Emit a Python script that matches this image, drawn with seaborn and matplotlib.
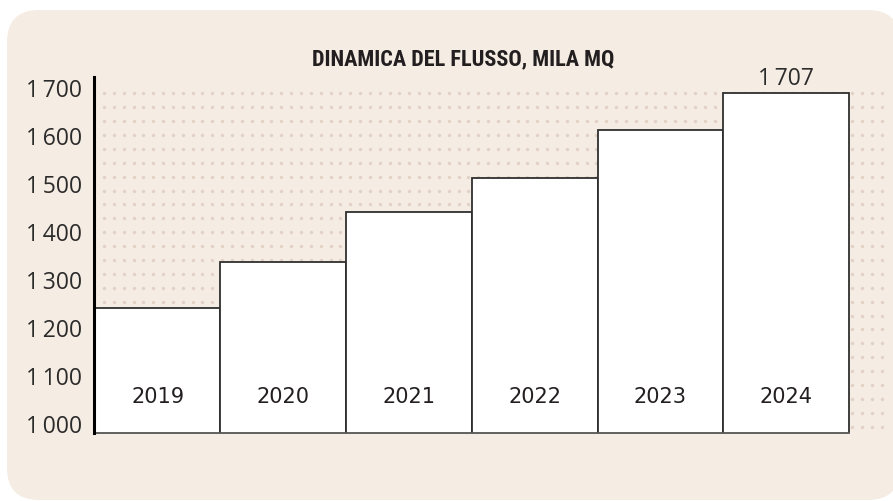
import numpy as np
import pandas as pd
import matplotlib
matplotlib.use("Agg")
import matplotlib.pyplot as plt
import matplotlib.transforms as mtransforms
from matplotlib.patches import FancyBboxPatch
from matplotlib import font_manager
import seaborn as sns

# ---- data ----
years = ["2019", "2020", "2021", "2022", "2023", "2024"]
values = [1260, 1355, 1459, 1530, 1631, 1707]
y_ticks = [1000, 1100, 1200, 1300, 1400, 1500, 1600, 1700]
title = "DINAMICA DEL FLUSSO, MILA MQ"
highlight_label = "1\u2009707"

def fmt(v):
    return f"{v:,}".replace(",", "\u2009")

df = pd.DataFrame({"year": years, "value": values})

sns.set_theme(style="white")
plt.rcParams["font.family"] = ["Open Sans", "DejaVu Sans"]

names = {f.name for f in font_manager.fontManager.ttflist}
narrow = [n for n in ["Roboto Condensed", "Liberation Sans Narrow", "Open Sans Condensed",
                      "DejaVu Sans"] if n in names]

W, H, DPI = 893, 501, 100
fig = plt.figure(figsize=(W / DPI, H / DPI), dpi=DPI)
fig.patch.set_facecolor("white")

panel = FancyBboxPatch((7, 1), 900 - 7, 491 - 1,
                       boxstyle="round,pad=0,rounding_size=32",
                       transform=None, facecolor="#F5ECE3", edgecolor="none", zorder=-10)
fig.patches.append(panel)

ax_l, ax_r, ax_b, ax_t = 93.5, 885.0, 433.0, 77.0
ax = fig.add_axes([ax_l / W, 1 - ax_b / H, (ax_r - ax_l) / W, (ax_b - ax_t) / H])
ax.set_facecolor("none")
ax.set_zorder(1)

# decorative dot pattern
cols = np.linspace(104, 882, 80)
rows = np.linspace(93.3, 426.7, 25)
CX, RY = np.meshgrid(cols, rows)
fx = (CX.ravel() - ax_l) / (ax_r - ax_l)
fy = (ax_b - RY.ravel()) / (ax_b - ax_t)
ax.scatter(fx, fy, s=6, color="#E2D2C5", linewidths=0, transform=ax.transAxes,
           zorder=0, clip_on=False)

sns.barplot(data=df, x="year", y="value", order=years, width=1.0, color="white",
            saturation=1, edgecolor="#2f2f2f", linewidth=1.3, ax=ax, zorder=2)

ax.set_xlim(-0.51, 5.5 + (885 - 849) / 125.67)
ax.set_ylim(1000, 1741)

ax.set_yticks(y_ticks)
ax.set_yticklabels([fmt(v) for v in y_ticks])
for t in ax.get_yticklabels():
    t.set_va("baseline")
    t.set_fontsize(16.5)
    t.set_color("#2b2b2b")
ax.tick_params(axis="y", length=0, pad=8)
ax.set_xticks([])
ax.set_xlabel("")
ax.set_ylabel("")

for s in ["top", "right"]:
    ax.spines[s].set_visible(False)
ax.spines["left"].set_color("black")
ax.spines["left"].set_linewidth(2.2)
ax.spines["bottom"].set_color("#555555")
ax.spines["bottom"].set_linewidth(1.3)
ax.spines["bottom"].set_bounds(-0.5, 5.5)
ax.spines["left"].set_zorder(5)

tr = mtransforms.blended_transform_factory(ax.transData, ax.transAxes)
for i, y in enumerate(years):
    ax.text(i, 0.10, y, transform=tr, ha="center", va="center",
            fontsize=15, color="#231F20", family=["DejaVu Sans"], zorder=4)

ax.annotate(highlight_label, xy=(len(years) - 1, values[-1]), xytext=(0, 6),
            textcoords="offset points", ha="center", va="baseline",
            fontsize=16.5, color="#2b2b2b", zorder=4)

fig.text(463 / W, 1 - 65 / H, title, ha="center", va="baseline",
         fontsize=16, fontweight="bold", color="#231F20",
         family=narrow, fontstretch="condensed")

fig.savefig("out.png", dpi=DPI, facecolor="white")
